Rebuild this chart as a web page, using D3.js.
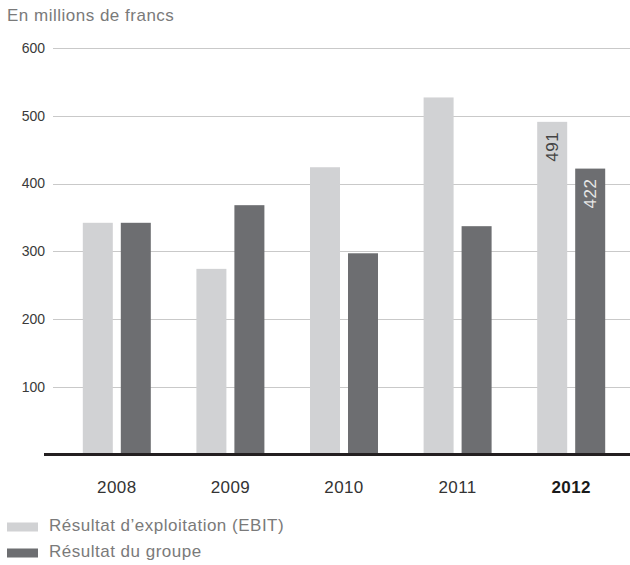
<!DOCTYPE html>
<html>
<head>
<meta charset="utf-8">
<script src="https://cdn.jsdelivr.net/npm/d3@7"></script>
<style>
  html, body { margin: 0; padding: 0; background: #fff; }
  svg { display: block; font-family: "Liberation Sans", Arial, Helvetica, sans-serif; }
</style>
</head>
<body>
<svg id="chart" width="630" height="565"></svg>
<script>
// Années et séries (en millions de francs)
const years = ["2008", "2009", "2010", "2011", "2012"];
const seriesNames = ["Résultat d’exploitation (EBIT)", "Résultat du groupe"];
const ebit = [342, 274, 424, 527, 491];
const groupe = [342, 368, 297, 337, 422];
const yTicks = [100, 200, 300, 400, 500, 600];
const labelledYear = "2012";

const colors = ["#d1d2d4", "#6d6e71"];

const svg = d3.select("#chart");

const y = d3.scaleLinear().domain([0, 600]).range([454.5, 48]);
const x0 = d3.scaleBand().domain(years).range([60, 628]);
const x1 = d3.scaleBand().domain([0, 1]).range([0, 68]).paddingInner(0.2105);
const groupOffset = x0.bandwidth() / 2 - 34;

// Titre de l'unité
svg.append("text")
  .attr("x", 7).attr("y", 21)
  .attr("font-size", 17).attr("letter-spacing", 0.5).attr("fill", "#7a7a7a")
  .text("En millions de francs");

// Grille horizontale et graduations
const grid = svg.append("g");
grid.selectAll("line").data(yTicks).join("line")
  .attr("x1", 53).attr("x2", 630)
  .attr("y1", d => Math.round(y(d)) + 0.5).attr("y2", d => Math.round(y(d)) + 0.5)
  .attr("stroke", "#c9c9c9").attr("stroke-width", 1.2);
grid.selectAll("text").data(yTicks).join("text")
  .attr("x", 45).attr("y", d => y(d))
  .attr("dy", "0.35em")
  .attr("text-anchor", "end")
  .attr("font-size", 14).attr("fill", "#3a3a3a")
  .text(d => d);

// Barres
const rows = years.map((yr, i) => ({ year: yr, values: [ebit[i], groupe[i]] }));
const groups = svg.append("g").selectAll("g").data(rows).join("g")
  .attr("transform", d => `translate(${x0(d.year) + groupOffset},0)`);

groups.selectAll("rect").data(d => d.values.map((v, k) => ({ k, v, year: d.year })))
  .join("rect")
  .attr("x", d => x1(d.k))
  .attr("width", x1.bandwidth())
  .attr("y", d => y(d.v))
  .attr("height", d => y(0) - y(d.v))
  .attr("fill", d => colors[d.k]);

// Valeurs de la dernière année, écrites verticalement dans les barres
groups.filter(d => d.year === labelledYear)
  .selectAll("text.val").data(d => d.values.map((v, k) => ({ k, v })))
  .join("text")
  .attr("class", "val")
  .attr("transform", d => `translate(${x1(d.k) + x1.bandwidth() / 2 + 6},${y(d.v) + 10}) rotate(-90)`)
  .attr("text-anchor", "end")
  .attr("font-size", 17).attr("letter-spacing", 0.5)
  .attr("fill", d => d.k === 0 ? "#444" : "#e6e6e6")
  .text(d => d.v);

// Axe des abscisses
svg.append("line")
  .attr("x1", 44).attr("x2", 630)
  .attr("y1", y(0)).attr("y2", y(0))
  .attr("stroke", "#231f20").attr("stroke-width", 3);

svg.append("g").selectAll("text").data(years).join("text")
  .attr("x", d => x0(d) + x0.bandwidth() / 2)
  .attr("y", 493)
  .attr("text-anchor", "middle")
  .attr("font-size", 17).attr("letter-spacing", 0.4)
  .attr("font-weight", d => d === labelledYear ? "bold" : "normal")
  .attr("fill", d => d === labelledYear ? "#1a1a1a" : "#333")
  .text(d => d);

// Légende
const legend = svg.append("g").selectAll("g").data(seriesNames).join("g")
  .attr("transform", (d, i) => `translate(7,${522.5 + i * 26})`);
legend.append("rect")
  .attr("width", 31).attr("height", 9)
  .attr("fill", (d, i) => colors[i]);
legend.append("text")
  .attr("x", 42).attr("y", 8.5)
  .attr("font-size", 17).attr("letter-spacing", 0.5).attr("fill", "#7a7a7a")
  .text(d => d);
</script>
</body>
</html>
